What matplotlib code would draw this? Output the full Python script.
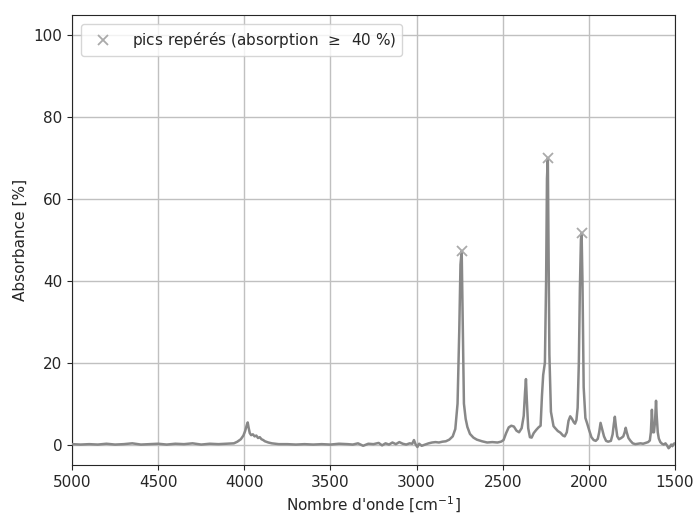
import matplotlib
matplotlib.use("Agg")
import matplotlib.pyplot as plt

wavenumbers = [
    5000, 4950, 4900, 4850, 4800, 4750, 4700, 4650, 4600, 4550, 4500, 4450, 4400, 4350,
    4300, 4250, 4200, 4150, 4100, 4060, 4040, 4020, 4005, 3995, 3985, 3980, 3975, 3968,
    3960, 3950, 3940, 3930, 3920, 3910, 3900, 3890, 3880, 3860, 3840, 3820, 3800, 3750,
    3700, 3650, 3600, 3550, 3500, 3450, 3400, 3370, 3340, 3310, 3280, 3250, 3220, 3200,
    3180, 3160, 3140, 3120, 3100, 3080, 3060, 3040, 3025, 3015, 3005, 2995, 2985, 2970,
    2950, 2930, 2910, 2890, 2870, 2850, 2830, 2810, 2790, 2775, 2762, 2752, 2745, 2738,
    2732, 2725, 2715, 2705, 2690, 2670, 2650, 2620, 2590, 2560, 2530, 2510, 2495, 2480,
    2465, 2450, 2435, 2420, 2405, 2390, 2378, 2370, 2365, 2360, 2352, 2342, 2332, 2320,
    2305, 2292, 2280, 2272, 2265, 2255, 2248, 2243, 2238, 2234, 2229, 2220, 2205, 2195,
    2180, 2165, 2150, 2140, 2128, 2118, 2108, 2098, 2088, 2080, 2072, 2065, 2058, 2052,
    2046, 2042, 2037, 2030, 2020, 2010, 1998, 1985, 1972, 1960, 1948, 1940, 1932, 1924,
    1912, 1900, 1888, 1872, 1862, 1855, 1849, 1843, 1835, 1825, 1812, 1800, 1792, 1786,
    1780, 1770, 1758, 1745, 1730, 1715, 1700, 1685, 1670, 1656, 1646, 1640, 1634, 1628,
    1622, 1616, 1610, 1606, 1600, 1594, 1585, 1575, 1565, 1555, 1545, 1537, 1530, 1522,
    1515, 1507, 1500]

absorbance = [
    0.1, 0.0, 0.1, 0.0, 0.2, 0.0, 0.1, 0.3, 0.0, 0.1, 0.2, 0.0, 0.2, 0.1,
    0.3, 0.0, 0.2, 0.1, 0.2, 0.3, 0.7, 1.3, 2.2, 3.3, 4.8, 5.4, 4.2, 2.8,
    2.3, 2.5, 2.0, 2.2, 1.6, 1.8, 1.3, 1.1, 0.8, 0.5, 0.3, 0.2, 0.1, 0.1,
    0.0, 0.1, 0.0, 0.1, 0.0, 0.2, 0.1, 0.0, 0.3, -0.3, 0.2, 0.1, 0.4, -0.2,
    0.3, 0.0, 0.5, 0.1, 0.6, 0.2, 0.0, 0.3, 0.2, 1.1, 0.0, -0.6, 0.2, -0.3,
    0.0, 0.3, 0.5, 0.6, 0.5, 0.7, 0.8, 1.2, 2.0, 3.8, 10.0, 28.0, 44.0, 47.3,
    30.0, 10.0, 6.3, 4.3, 2.6, 1.7, 1.2, 0.8, 0.5, 0.6, 0.5, 0.7, 1.1, 2.8,
    4.2, 4.6, 4.4, 3.4, 3.0, 4.0, 7.0, 13.0, 16.0, 11.0, 4.0, 1.8, 1.7, 2.8,
    3.6, 4.2, 4.6, 12.0, 17.0, 20.0, 40.0, 65.0, 70.0, 50.0, 22.0, 8.0, 4.5, 4.0,
    3.3, 2.9, 2.2, 2.0, 3.0, 5.8, 6.9, 6.3, 5.5, 5.1, 6.0, 9.0, 20.0, 38.0,
    50.0, 51.7, 40.0, 14.0, 6.5, 5.2, 3.5, 1.8, 1.1, 0.9, 1.4, 3.0, 5.3, 4.0,
    2.0, 0.9, 0.7, 0.9, 2.5, 5.0, 6.8, 4.5, 2.0, 1.3, 1.6, 2.0, 3.0, 4.1,
    3.0, 1.6, 0.9, 0.3, 0.1, 0.2, 0.3, 0.2, 0.4, 0.6, 1.0, 3.0, 8.5, 3.0,
    3.0, 5.5, 10.7, 7.0, 3.0, 1.5, 0.6, 0.2, 0.0, 0.3, -0.3, -0.9, -0.6, 0.0,
    -0.4, 0.2, 0.3]

peak_wavenumbers = [2738, 2238, 2042]
peak_absorbance = [47.3, 70.0, 51.7]

text_color = "#262626"
plt.rcParams.update({
    "text.color": text_color,
    "axes.labelcolor": text_color,
    "xtick.color": text_color,
    "ytick.color": text_color,
})

fig = plt.figure(figsize=(6.96, 5.14), dpi=100)
ax = fig.add_axes([0.1034, 0.0953, 0.8664, 0.8757])
ax.plot(wavenumbers, absorbance, color="#888888", linewidth=1.8, zorder=3)
ax.plot(peak_wavenumbers, peak_absorbance, linestyle="none", marker="x", markersize=7,
        markeredgewidth=1.3, color="#aaaaaa", zorder=4,
        label="pics repérés (absorption $\\,\\geq\\,$ 40 %)")
ax.set_xlim(5000, 1500)
ax.set_ylim(-5, 105)
ax.set_xticks([5000, 4500, 4000, 3500, 3000, 2500, 2000, 1500])
ax.set_yticks([0, 20, 40, 60, 80, 100])
ax.grid(True, color="#c0c0c0", linewidth=1.0)
ax.set_axisbelow(True)
for s in ax.spines.values():
    s.set_color(text_color)
ax.tick_params(labelsize=11)
ax.set_xlabel("Nombre d'onde [cm$^{-1}$]", fontsize=11)
ax.set_ylabel("Absorbance [%]", fontsize=11)
ax.legend(loc="upper left", fontsize=11, handletextpad=0.9, borderaxespad=0.6)
fig.savefig("out.png", dpi=100)
